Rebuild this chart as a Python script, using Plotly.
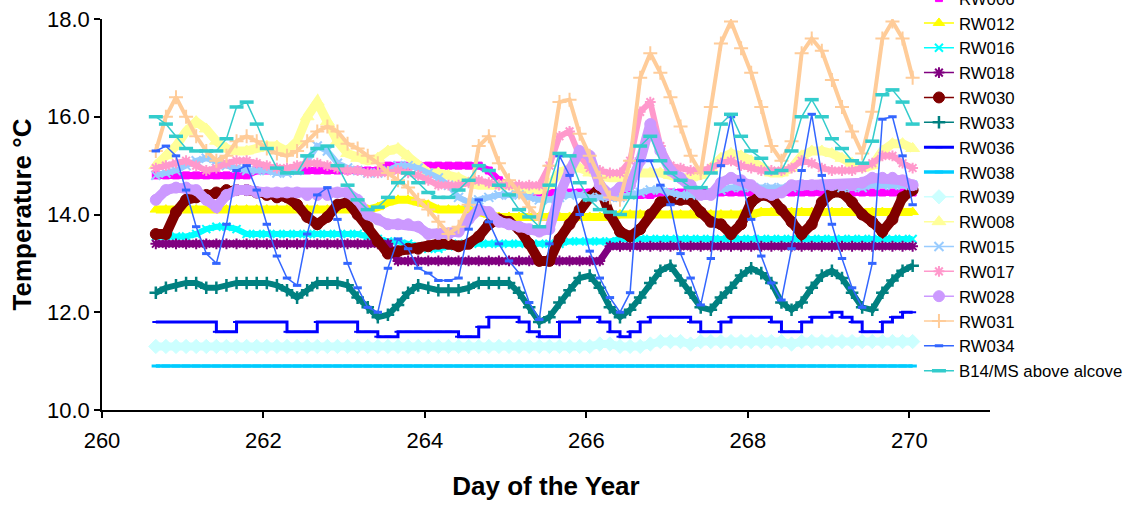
import numpy as np
import plotly.graph_objects as go

# Sample times: every 3 hours from day 260.667 to day 270.042
DAY = np.round(260 + 2 / 3 + np.arange(76) * 0.125, 4)

RW006 = [14.8, 14.8, 14.8, 14.8, 14.8, 14.8, 14.8, 14.8, 14.8, 14.8,
         14.9, 14.9, 14.9, 14.9, 14.9, 14.9, 14.9, 14.9, 14.9, 14.9,
         14.9, 14.9, 14.9, 15.0, 15.0, 15.0, 15.0, 15.0, 15.0, 15.0,
         15.0, 15.0, 15.0, 14.9, 14.7, 14.6, 14.5, 14.45, 14.45, 14.45,
         14.45, 14.45, 14.45, 14.45, 14.45, 14.4, 14.4, 14.4, 14.4, 14.4,
         14.45, 14.45, 14.45, 14.45, 14.45, 14.45, 14.45, 14.45, 14.45, 14.45,
         14.45, 14.45, 14.45, 14.45, 14.45, 14.45, 14.45, 14.45, 14.45, 14.45,
         14.45, 14.45, 14.45, 14.45, 14.45, 14.45]
RW012 = [14.1, 14.1, 14.1, 14.1, 14.1, 14.1, 14.1, 14.1, 14.1, 14.1,
         14.1, 14.1, 14.1, 14.1, 14.1, 14.1, 14.1, 14.1, 14.1, 14.1,
         14.1, 14.1, 14.15, 14.25, 14.3, 14.3, 14.25, 14.2, 14.1, 14.1,
         14.1, 14.1, 14.05, 14.0, 13.95, 13.95, 13.95, 13.95, 13.95, 13.95,
         13.95, 13.95, 13.95, 13.95, 13.95, 13.95, 14.0, 14.0, 14.0, 14.0,
         14.0, 14.0, 14.0, 14.0, 14.0, 14.0, 14.0, 14.0, 14.0, 14.0,
         14.05, 14.05, 14.05, 14.05, 14.05, 14.05, 14.05, 14.05, 14.05, 14.05,
         14.05, 14.05, 14.05, 14.05, 14.05, 14.05]
RW016 = [13.55, 13.55, 13.55, 13.55, 13.6, 13.7, 13.75, 13.75, 13.7, 13.6,
         13.6, 13.6, 13.6, 13.6, 13.6, 13.6, 13.6, 13.6, 13.6, 13.6,
         13.6, 13.55, 13.5, 13.45, 13.45, 13.4, 13.35, 13.3, 13.3, 13.35,
         13.4, 13.4, 13.4, 13.4, 13.4, 13.4, 13.4, 13.4, 13.4, 13.4,
         13.4, 13.45, 13.45, 13.45, 13.45, 13.45, 13.5, 13.5, 13.5, 13.5,
         13.5, 13.5, 13.5, 13.5, 13.5, 13.5, 13.5, 13.5, 13.5, 13.5,
         13.5, 13.5, 13.5, 13.5, 13.5, 13.5, 13.5, 13.5, 13.5, 13.5,
         13.5, 13.5, 13.5, 13.5, 13.5, 13.5]
RW018 = [13.4, 13.4, 13.4, 13.4, 13.4, 13.4, 13.4, 13.4, 13.4, 13.4,
         13.4, 13.4, 13.4, 13.4, 13.4, 13.4, 13.4, 13.4, 13.4, 13.4,
         13.4, 13.4, 13.4, 13.4, 13.05, 13.05, 13.05, 13.05, 13.05, 13.05,
         13.05, 13.05, 13.05, 13.05, 13.05, 13.05, 13.05, 13.05, 13.05, 13.05,
         13.05, 13.05, 13.05, 13.05, 13.05, 13.35, 13.35, 13.35, 13.35, 13.35,
         13.35, 13.35, 13.35, 13.35, 13.35, 13.35, 13.35, 13.35, 13.35, 13.35,
         13.35, 13.35, 13.35, 13.35, 13.35, 13.35, 13.35, 13.35, 13.35, 13.35,
         13.35, 13.35, 13.35, 13.35, 13.35, 13.35]
RW030 = [13.6, 13.6, 14.05, 14.3, 14.35, 14.4, 14.45, 14.5, 14.5, 14.5,
         14.45, 14.4, 14.35, 14.35, 14.2, 13.95, 13.8, 13.95, 14.2, 14.25,
         14.0, 13.75, 13.45, 13.2, 13.25, 13.3, 13.3, 13.35, 13.4, 13.4,
         13.35, 13.4, 13.55, 13.8, 13.9, 13.85, 13.7, 13.4, 13.05, 13.05,
         13.5, 13.8, 14.1, 14.35, 14.55, 14.0, 13.65, 13.55, 13.7, 14.0,
         14.25, 14.3, 14.3, 14.3, 14.05, 13.85, 13.8, 13.6, 13.8, 14.25,
         14.4, 14.35, 14.1, 13.85, 13.6, 13.8, 14.25, 14.45, 14.45, 14.25,
         14.0, 13.85, 13.65, 13.9, 14.35, 14.5]
RW033 = [12.4, 12.5, 12.55, 12.6, 12.6, 12.5, 12.5, 12.55, 12.6, 12.6,
         12.6, 12.6, 12.55, 12.45, 12.3, 12.45, 12.6, 12.6, 12.6, 12.55,
         12.3, 12.1, 11.9, 11.95, 12.15, 12.4, 12.55, 12.5, 12.45, 12.45,
         12.45, 12.5, 12.6, 12.6, 12.6, 12.6, 12.4, 12.1, 11.8, 11.9,
         12.2, 12.45, 12.7, 12.75, 12.5, 12.1, 11.9, 12.05, 12.3, 12.6,
         12.85, 12.95, 12.65, 12.4, 12.1, 12.05, 12.3, 12.5, 12.75, 12.9,
         12.8, 12.6, 12.2, 12.05, 12.2, 12.5, 12.75, 12.85, 12.7, 12.4,
         12.1, 12.05, 12.4, 12.65, 12.85, 12.95]
RW036 = [11.8, 11.8, 11.8, 11.8, 11.8, 11.8, 11.6, 11.6, 11.8, 11.8,
         11.8, 11.8, 11.8, 11.6, 11.6, 11.6, 11.8, 11.8, 11.8, 11.8,
         11.6, 11.6, 11.5, 11.5, 11.6, 11.6, 11.6, 11.6, 11.6, 11.6,
         11.5, 11.5, 11.7, 11.9, 11.9, 11.9, 11.8, 11.6, 11.5, 11.5,
         11.8, 11.8, 11.9, 11.9, 11.8, 11.6, 11.5, 11.6, 11.8, 11.9,
         11.9, 11.9, 11.9, 11.8, 11.6, 11.6, 11.8, 11.9, 11.9, 11.9,
         11.9, 11.8, 11.6, 11.6, 11.8, 11.9, 11.9, 12.0, 11.9, 11.8,
         11.6, 11.6, 11.8, 11.9, 12.0, 12.0]
RW038 = [10.9, 10.9, 10.9, 10.9, 10.9, 10.9, 10.9, 10.9, 10.9, 10.9,
         10.9, 10.9, 10.9, 10.9, 10.9, 10.9, 10.9, 10.9, 10.9, 10.9,
         10.9, 10.9, 10.9, 10.9, 10.9, 10.9, 10.9, 10.9, 10.9, 10.9,
         10.9, 10.9, 10.9, 10.9, 10.9, 10.9, 10.9, 10.9, 10.9, 10.9,
         10.9, 10.9, 10.9, 10.9, 10.9, 10.9, 10.9, 10.9, 10.9, 10.9,
         10.9, 10.9, 10.9, 10.9, 10.9, 10.9, 10.9, 10.9, 10.9, 10.9,
         10.9, 10.9, 10.9, 10.9, 10.9, 10.9, 10.9, 10.9, 10.9, 10.9,
         10.9, 10.9, 10.9, 10.9, 10.9, 10.9]
RW039 = [11.3, 11.3, 11.3, 11.3, 11.3, 11.3, 11.3, 11.3, 11.3, 11.3,
         11.3, 11.3, 11.3, 11.3, 11.3, 11.3, 11.3, 11.3, 11.3, 11.3,
         11.3, 11.3, 11.3, 11.3, 11.3, 11.3, 11.3, 11.3, 11.3, 11.3,
         11.3, 11.3, 11.3, 11.3, 11.3, 11.3, 11.3, 11.3, 11.3, 11.3,
         11.3, 11.3, 11.3, 11.3, 11.35, 11.35, 11.3, 11.3, 11.3, 11.35,
         11.4, 11.4, 11.4, 11.35, 11.4, 11.4, 11.4, 11.4, 11.4, 11.4,
         11.4, 11.4, 11.4, 11.35, 11.4, 11.4, 11.4, 11.4, 11.4, 11.4,
         11.4, 11.4, 11.4, 11.4, 11.4, 11.4]
RW008 = [15.0, 15.2, 15.4, 15.7, 15.9, 15.75, 15.5, 15.35, 15.3, 15.3,
         15.35, 15.4, 15.4, 15.3, 15.5, 16.0, 16.3, 15.9, 15.5, 15.25,
         15.15, 15.1, 15.15, 15.3, 15.35, 15.2, 15.0, 14.85, 14.85, 14.8,
         14.75, 14.65, 14.6, 14.6, 14.6, 14.6, 14.55, 14.5, 14.5, 14.6,
         14.85, 14.95, 14.95, 14.85, 14.8, 14.75, 14.75, 14.8, 14.85, 14.85,
         14.85, 14.8, 14.75, 14.75, 14.8, 14.95, 15.15, 15.25, 15.2, 15.1,
         14.95, 14.85, 14.85, 14.95, 15.2, 15.3, 15.3, 15.25, 15.15, 15.05,
         14.95, 15.0, 15.3, 15.45, 15.45, 15.35]
RW015 = [14.8, 14.85, 14.9, 15.0, 15.1, 15.15, 15.1, 15.0, 14.95, 14.9,
         14.9, 14.9, 14.85, 14.85, 14.9, 15.1, 15.4, 15.3, 15.05, 14.95,
         14.9, 14.85, 14.85, 14.9, 15.0, 15.0, 14.95, 14.85, 14.75, 14.6,
         14.35, 14.25, 14.3, 14.35, 14.4, 14.4, 14.4, 14.35, 14.3, 14.3,
         14.35, 14.4, 14.4, 14.35, 14.35, 14.35, 14.35, 14.4, 14.45, 14.5,
         14.5, 14.45, 14.4, 14.4, 14.4, 14.45, 14.5, 14.55, 14.55, 14.55,
         14.55, 14.55, 14.55, 14.55, 14.6, 14.6, 14.6, 14.6, 14.55, 14.55,
         14.55, 14.6, 14.6, 14.6, 14.6, 14.6]
RW017 = [14.95, 15.0, 15.05, 15.1, 15.0, 14.9, 14.95, 15.05, 15.1, 15.1,
         15.05, 15.0, 14.95, 14.95, 15.0, 15.05, 15.05, 15.0, 14.95, 14.9,
         14.9, 14.85, 14.85, 14.85, 14.9, 14.85, 14.8, 14.7, 14.6, 14.6,
         14.6, 14.65, 14.7, 14.65, 14.6, 14.6, 14.6, 14.6, 14.6, 15.0,
         15.6, 15.7, 15.2, 14.95, 14.9, 14.85, 14.85, 15.1, 16.1, 16.3,
         15.4, 15.0, 14.95, 14.9, 14.9, 14.95, 15.05, 15.1, 15.0, 14.95,
         14.9, 14.9, 14.9, 14.95, 15.1, 15.05, 14.95, 14.9, 14.9, 14.9,
         14.95, 15.05, 15.2, 15.2, 15.05, 14.95]
RW028 = [14.3, 14.5, 14.55, 14.55, 14.5, 14.3, 14.15, 14.4, 14.5, 14.5,
         14.45, 14.45, 14.45, 14.45, 14.45, 14.4, 14.4, 14.4, 14.45, 14.45,
         14.3, 14.0, 13.9, 13.8, 13.8, 13.8, 13.75, 13.6, 13.6, 13.6,
         13.65, 13.9, 14.1, 14.05, 13.85, 13.8, 13.75, 13.7, 13.65, 13.7,
         14.4, 14.9, 15.3, 15.2, 14.6, 14.4, 14.55, 14.6, 15.1, 15.85,
         15.3, 14.9, 14.75, 14.6, 14.4, 14.4, 14.65, 14.75, 14.7, 14.6,
         14.45, 14.4, 14.45, 14.6, 14.6, 14.6, 14.6, 14.6, 14.6, 14.6,
         14.65, 14.75, 14.75, 14.75, 14.7, 14.6]
RW031 = [15.3, 16.0, 16.4, 16.0, 15.6, 15.3, 15.1, 15.2, 15.5, 15.6,
         15.5, 15.35, 15.25, 15.2, 15.3, 15.5, 15.7, 15.8, 15.7, 15.45,
         15.35, 15.2, 15.05, 14.85, 14.7, 14.55, 14.3, 14.1, 13.85, 13.6,
         13.75, 14.2, 15.4, 15.6, 15.05, 14.7, 14.45, 14.15, 13.9, 15.0,
         16.3, 16.35, 15.65, 15.2, 14.75, 14.35, 14.3, 15.1, 16.8, 17.3,
         16.9, 16.4, 15.8, 15.2, 14.85, 16.2, 17.5, 17.95, 17.4, 16.9,
         16.2, 15.4, 15.1, 15.5, 17.3, 17.6, 17.35, 16.75, 16.2, 15.7,
         15.25, 16.1, 17.6, 17.95, 17.6, 16.8]
RW034 = [15.3, 15.4, 15.2, 14.5, 13.75, 13.2, 13.0, 13.8, 14.9, 15.0,
         14.5, 13.8, 13.15, 12.7, 12.55, 13.6, 14.4, 14.55, 13.9, 13.0,
         12.5, 12.1, 12.0, 12.9, 13.5, 13.3, 12.9, 12.8, 12.65, 12.65,
         12.7, 13.7, 14.3, 13.85, 13.4, 13.05, 12.8, 12.2, 11.85, 13.4,
         15.2, 14.8, 14.0, 13.25, 12.7, 12.3, 12.0, 12.4, 15.1, 15.1,
         14.6, 14.2, 13.2, 12.7, 12.15, 13.1, 15.0, 16.0, 14.7, 13.9,
         13.15, 12.6, 12.25, 13.3, 14.9, 16.05, 14.8, 13.8, 13.1, 12.5,
         12.1, 13.0, 15.95, 16.0, 15.2, 14.2]
B14_MS = [16.0, 15.85, 15.6, 15.35, 15.3, 15.3, 15.3, 15.55, 16.2, 16.3,
          15.85, 15.35, 14.95, 14.85, 14.85, 15.2, 15.35, 15.4, 15.0, 14.6,
          14.3, 14.1, 14.15, 14.35, 14.65, 14.85, 14.65, 14.45, 14.35, 14.35,
          14.5, 14.7, 15.0, 14.9, 14.6, 14.4, 14.1, 13.95, 13.75, 14.6,
          15.25, 15.2, 14.65, 14.3, 14.1, 14.05, 14.0, 14.35, 15.4, 15.6,
          15.1, 14.85, 14.7, 14.55, 14.55, 14.85, 15.85, 16.05, 15.6, 15.3,
          15.15, 14.85, 14.9, 15.3, 16.0, 16.35, 16.0, 15.55, 15.35, 15.1,
          15.05, 15.5, 16.45, 16.55, 16.3, 15.85]

# name, values, colour, marker symbol, marker size, marker stroke,
# line width, line shape, width of the solid band under the markers
SERIES = [
    ("RW006", RW006, "#FF00FF", "square", 7, 1, 1.5, "linear", 7),
    ("RW012", RW012, "#FFFF00", "triangle-up", 10, 1, 1.5, "linear", 8),
    ("RW016", RW016, "#00FFFF", "x-thin-open", 8, 2, 1.5, "linear", 6),
    ("RW018", RW018, "#800080", "asterisk-open", 9, 2, 1.5, "linear", 7),
    ("RW030", RW030, "#800000", "circle", 11, 1, 1.5, "linear", 10),
    ("RW033", RW033, "#008080", "cross-thin-open", 9, 2.5, 1.5, "linear", 6),
    ("RW036", RW036, "#0000FF", "line-ew-open", 5, 2, 3, "hv", 0),
    ("RW038", RW038, "#00CCFF", "line-ew-open", 6, 3, 3.5, "linear", 0),
    ("RW039", RW039, "#CCFFFF", "diamond", 11, 1, 1.5, "linear", 8),
    ("RW008", RW008, "#FFFF99", "triangle-up", 12, 1, 1.5, "linear", 9),
    ("RW015", RW015, "#99CCFF", "x-thin-open", 9, 2, 1.5, "linear", 6),
    ("RW017", RW017, "#FF99CC", "asterisk-open", 9, 2, 1.5, "linear", 6),
    ("RW028", RW028, "#CC99FF", "circle", 11, 1, 1.5, "linear", 10),
    ("RW031", RW031, "#FFCC99", "cross-thin-open", 10, 2, 1.5, "linear", 4),
    ("RW034", RW034, "#3366FF", "line-ew-open", 6, 3, 1.5, "linear", 0),
    ("B14/MS above alcove", B14_MS, "#33CCCC", "line-ew-open", 10, 3.5, 1.5, "linear", 0),
]

FONT = "Arial, Liberation Sans, sans-serif"

fig = go.Figure()
for name, vals, color, symbol, size, mlw, lw, shape, band in SERIES:
    if band:
        # dense hourly markers in the logger export merge into a solid band
        fig.add_trace(go.Scatter(
            x=DAY, y=vals, mode="lines", showlegend=False, hoverinfo="skip",
            line=dict(color=color, width=band, shape=shape),
        ))
    fig.add_trace(go.Scatter(
        x=DAY, y=vals, name=name, mode="lines+markers",
        line=dict(color=color, width=lw, shape=shape),
        marker=dict(symbol=symbol, size=size, color=color,
                    line=dict(color=color, width=mlw)),
    ))

fig.update_layout(
    width=1128, height=508,
    margin=dict(l=102, r=138, t=19, b=98, autoexpand=False),
    paper_bgcolor="white", plot_bgcolor="white",
    font=dict(family=FONT, color="black"),
    showlegend=True,
    legend=dict(
        x=0.92, y=1.098, xanchor="left", yanchor="top",
        font=dict(family=FONT, size=16.8, color="black"),
        tracegroupgap=0, maxheight=700,
        bgcolor="rgba(0,0,0,0)", itemwidth=30,
    ),
    xaxis=dict(
        range=[260, 271], tick0=260, dtick=2, tickformat="d",
        showgrid=False, zeroline=False,
        showline=True, linecolor="black", linewidth=1.5,
        ticks="outside", ticklen=6, tickcolor="black", tickwidth=1.5,
        ticklabelstandoff=4,
        tickfont=dict(family=FONT, size=22),
        title=dict(text="<b>Day of the Year</b>", standoff=25,
                   font=dict(family=FONT, size=26)),
    ),
    yaxis=dict(
        range=[10, 18], dtick=2, tickformat=".1f",
        showgrid=False, zeroline=False,
        showline=True, linecolor="black", linewidth=1.5,
        ticks="outside", ticklen=6, tickcolor="black", tickwidth=1.5,
        ticklabelstandoff=0,
        tickfont=dict(family=FONT, size=22),
        title=dict(text="<b>Temperature °C</b>", standoff=8,
                   font=dict(family=FONT, size=26)),
    ),
)

fig.write_html("out.html")
